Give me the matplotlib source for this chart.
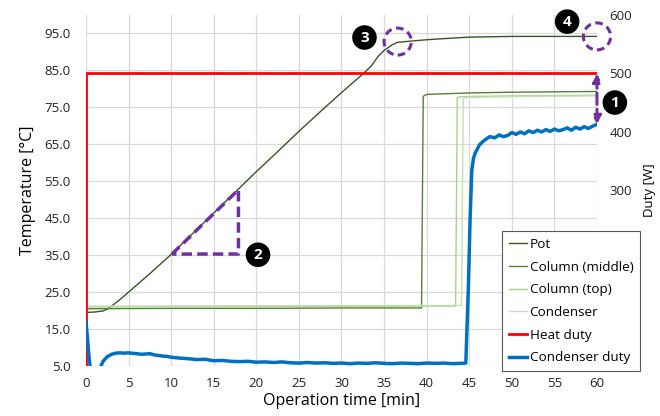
import matplotlib
matplotlib.use("Agg")
import matplotlib.pyplot as plt
from matplotlib.patches import Ellipse

plt.rcParams['font.family'] = ['Open Sans', 'DejaVu Sans']

# Temperatures [degC] vs operation time [min]
pot_time = [0, 1, 2, 2.5, 3, 4, 5, 7.5, 10, 12.5, 15, 17.5, 20, 22.5, 25, 27.5, 30,
            32.5, 33.5, 34.3, 35, 36, 36.6, 38, 40, 42, 45, 50, 55, 60]
pot_temp = [19.5, 19.6, 19.9, 20.4, 21.2, 23.0, 25.0, 30.0, 35.2, 40.8, 46.4, 52.0, 57.6,
            63.0, 68.5, 73.8, 79.0, 84.0, 86.2, 88.8, 90.4, 92.0, 92.6, 92.9, 93.3, 93.6,
            94.0, 94.2, 94.2, 94.2]

mid_time = [0, 10, 20, 30, 39.4, 39.6, 40, 45, 50, 55, 60]
mid_temp = [20.5, 20.6, 20.6, 20.7, 20.7, 78.0, 78.5, 78.9, 79.1, 79.2, 79.3]

top_time = [0, 20, 43.4, 43.6, 44, 50, 60]
top_temp = [21.0, 21.1, 21.2, 77.6, 77.9, 78.1, 78.3]

cond_time = [0, 20, 44.1, 44.3, 44.7, 50, 60]
cond_temp = [21.2, 21.3, 21.4, 77.4, 77.7, 77.9, 78.1]

# Duties [W]
heat_time = [0, 0, 60]
heat_duty = [0, 500, 500]

cd_time = [0, 0.4, 0.8, 1.2, 1.6, 2.0, 2.5, 3.0, 3.5, 4.0, 4.5, 5.0, 5.5, 6.0, 6.5, 7.0,
           7.5, 8.0, 8.5, 9.0, 9.5, 10, 11, 12, 13, 14, 15, 16, 17, 18, 19, 20, 21, 22, 23,
           24, 25, 26, 27, 28, 29, 30, 31, 32, 33, 34, 35, 36, 37, 38, 39, 40, 41, 42, 43,
           44, 44.6, 44.9, 45.1, 45.3, 45.5, 45.7, 46.2, 46.7, 47.4, 48.0, 48.5, 49.0, 49.5,
           50.0, 50.5, 51.0, 51.5, 52.0, 52.5, 53.0, 53.5, 54.0, 54.5, 55.0, 55.5, 56.0,
           56.5, 57.0, 57.5, 58.0, 58.5, 59.0, 59.5, 60.0]
cd_duty = [76, 8, -30, -30, -5, 8, 16, 20, 22, 22.5, 22, 22.5, 21.5, 21, 20, 20.5,
           21, 19, 18, 17, 16.5, 15, 13.5, 12.5, 11, 11.5, 9, 9.5, 8, 7.5, 8, 6.5, 7, 6, 7,
           5.5, 5, 6, 5, 5.5, 4.5, 5, 4, 5, 4.5, 5.5, 4.5, 4, 5, 4.5, 4, 5, 4.5, 5, 4,
           4.5, 5, 135, 250, 335, 355, 364, 378, 385, 392, 390, 395, 392, 394, 399, 396, 400,
           397, 402, 399, 403, 400, 404, 401, 405, 402, 404, 407, 403, 408, 405, 409, 406,
           410, 413]

x_ticks = list(range(0, 61, 5))
temp_ticks = [5, 15, 25, 35, 45, 55, 65, 75, 85, 95]
duty_ticks = [300, 400, 500, 600]

purple = '#7030a0'

fig = plt.figure(figsize=(6.6, 4.16), dpi=100)
ax = fig.add_axes([0.1303, 0.1202, 0.7742, 0.8438])
ax2 = ax.twinx()

ax.plot(pot_time, pot_temp, color='#375623', lw=1.0, label='Pot')
ax.plot(mid_time, mid_temp, color='#548235', lw=1.0, label='Column (middle)')
ax.plot(top_time, top_temp, color='#a9d18e', lw=1.0, label='Column (top)')
ax.plot(cond_time, cond_temp, color='#c5e0b4', lw=1.0, label='Condenser')
ax2.plot(heat_time, heat_duty, color='#ff0000', lw=2.0, label='Heat duty')
ax2.plot(cd_time, cd_duty, color='#0070c0', lw=2.5, label='Condenser duty')

ax.set_xlim(0, 60)
ax.set_ylim(5, 100)
ax2.set_ylim(0, 600)
ax.set_xticks(x_ticks)
ax.set_yticks(temp_ticks)
ax.set_yticklabels([f"{v:.1f}" for v in temp_ticks])
ax2.set_yticks(duty_ticks)

ax.grid(True, color='#d9d9d9', lw=0.9)
ax.set_axisbelow(True)
for a in (ax, ax2):
    for s in a.spines.values():
        s.set_visible(False)
ax.tick_params(axis='x', length=0, pad=8, labelsize=9.5, colors='#222222')
ax.tick_params(axis='y', length=0, pad=11, labelsize=9.5, colors='#222222')
ax2.tick_params(axis='y', length=0, pad=9, labelsize=9.5, colors='#222222')

ax.set_xlabel('Operation time [min]', fontsize=11.5, labelpad=2)
ax.set_ylabel('Temperature [°C]', fontsize=11.5, labelpad=6)
ax2.set_ylabel('Duty [W]', fontsize=9.5, labelpad=8)

# slope triangle on the pot curve
t1, t2 = 10.1, 17.9
y1, y2 = 35.3, 52.7
ax.plot([t1, t2, t2, t1], [y1, y2, y1, y1], color=purple, lw=2.5, ls=(0, (3, 1.5)))

# dashed circles on the pot curve
for tc, yc in [(36.6, 92.8), (60, 94.2)]:
    ax.add_patch(Ellipse((tc, yc), 3.2, 7.3, fill=False, ec=purple, lw=2.2,
                         ls=(0, (2.5, 1.5)), clip_on=False, zorder=5))

# double arrow between heat duty and condenser duty
ax2.annotate('', xy=(60, cd_duty[-1]), xytext=(60, 500),
             arrowprops=dict(arrowstyle='<|-|>', color=purple, lw=2.2, ls='--',
                             mutation_scale=12, shrinkA=0, shrinkB=0))

# numbered markers
for lbl, tx, ty in [('1', 62.1, 76.3), ('2', 20.2, 35.1), ('3', 32.7, 93.9), ('4', 56.5, 98.2)]:
    ax.text(tx, ty, lbl, ha='center', va='center', color='white', fontsize=11,
            fontweight='bold', zorder=6,
            bbox=dict(boxstyle='circle,pad=0.3', fc='black', ec='black'))

h1, l1 = ax.get_legend_handles_labels()
h2, l2 = ax2.get_legend_handles_labels()
leg = fig.legend(h1 + h2, l1 + l2, loc='lower left', bbox_to_anchor=(0.7606, 0.108),
                 bbox_transform=fig.transFigure, fontsize=9.7, frameon=True, fancybox=False,
                 edgecolor='#595959', framealpha=1, handlelength=1.35, handletextpad=0.2,
                 labelspacing=0.72, borderpad=0.5, borderaxespad=0)
leg.get_frame().set_linewidth(0.8)

fig.savefig('out.png', dpi=100)
